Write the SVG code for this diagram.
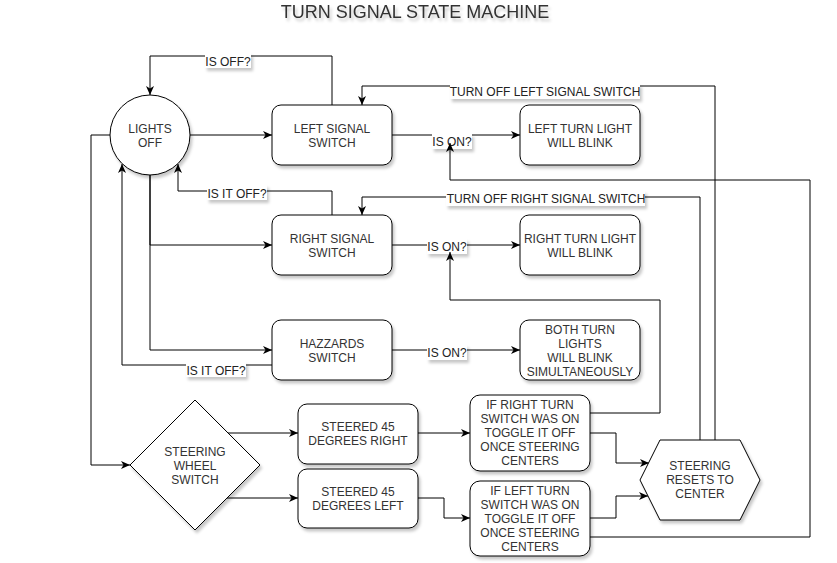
<svg xmlns="http://www.w3.org/2000/svg" width="837" height="563" viewBox="0 0 837 563">
<defs>
<filter id="sh" x="-20%" y="-20%" width="150%" height="160%">
<feDropShadow dx="2" dy="3" stdDeviation="1.5" flood-color="#000" flood-opacity="0.22"/>
</filter>
<marker id="arr" markerUnits="userSpaceOnUse" markerWidth="10" markerHeight="8" refX="9" refY="4" orient="auto">
<path d="M0,0 L9,4 L0,8 L2.5,4 Z" fill="#000"/>
</marker>
<style>
.n{fill:#fff;stroke:#000;stroke-width:1;filter:url(#sh)}
.t{font-family:"Liberation Sans",Arial,sans-serif;font-size:12px;fill:#333;text-anchor:middle}
.e{fill:none;stroke:#000;stroke-width:1}
.a{marker-end:url(#arr)}
.lb{fill:#fff;filter:url(#sh)}
.lt{font-family:"Liberation Sans",Arial,sans-serif;font-size:12px;fill:#222;text-anchor:middle}
.title{font-family:"Liberation Sans",Arial,sans-serif;font-size:18px;fill:#333;text-anchor:middle;filter:url(#sh)}
</style>
</defs>
<rect width="837" height="563" fill="#fff"/>
<text class="title" x="415" y="18">TURN SIGNAL STATE MACHINE</text>

<g id="connectors">
<path class="e a" d="M190,135 H272"/>
<path class="e a" d="M332,105 V56 H150 V95"/>
<rect class="lb" x="205" y="53" width="46" height="15"/><text class="lt" x="228" y="65.5">IS OFF?</text>
<path class="e a" d="M150,175 V245 H272"/>
<path class="e a" d="M150,175 V350 H272"/>
<path class="e a" d="M332,215 V191 H178 V164"/>
<rect class="lb" x="207" y="185" width="60" height="15"/><text class="lt" x="237" y="197.5">IS IT OFF?</text>
<path class="e a" d="M272,365 H122 V164"/>
<rect class="lb" x="186" y="362" width="60" height="15"/><text class="lt" x="216" y="374.5">IS IT OFF?</text>
<path class="e a" d="M110,135 H91 V465 H130"/>
<path class="e a" d="M392,135 H520"/>
<rect class="lb" x="432" y="134" width="40" height="15"/><text class="lt" x="452" y="146">IS ON?</text>
<path class="e a" d="M392,245 H520"/>
<rect class="lb" x="427" y="239" width="40" height="15"/><text class="lt" x="447" y="251">IS ON?</text>
<path class="e a" d="M392,350 H520"/>
<rect class="lb" x="427" y="345" width="40" height="15"/><text class="lt" x="447" y="357">IS ON?</text>
<path class="e a" d="M715,440 V86 H362 V105"/>
<rect class="lb" x="450" y="84" width="190" height="15"/><text class="lt" x="545" y="96">TURN OFF LEFT SIGNAL SWITCH</text>
<path class="e a" d="M700,440 V197 H362 V215"/>
<rect class="lb" x="446" y="191" width="199" height="15"/><text class="lt" x="546" y="203">TURN OFF RIGHT SIGNAL SWITCH</text>
<path class="e a" d="M590,413 H660 V300 H450 V252"/>
<path class="e a" d="M590,537 H810 V180 H450 V143"/>
<path class="e a" d="M228,433 H298"/>
<path class="e a" d="M227,498 H298"/>
<path class="e a" d="M418,433 H470"/>
<path class="e a" d="M418,498 H444 V518 H470"/>
<path class="e a" d="M590,433 H616 V463 H649"/>
<path class="e a" d="M590,518 H616 V496 H648"/>
</g>

<g id="lights-off">
<circle class="n" cx="150" cy="135" r="40"/>
<text class="t" x="150" y="132.5">LIGHTS</text>
<text class="t" x="150" y="146.5">OFF</text>
</g>
<g id="left-signal-switch">
<rect class="n" x="272" y="105" width="120" height="60" rx="9"/>
<text class="t" x="332" y="132.5">LEFT SIGNAL</text>
<text class="t" x="332" y="146.5">SWITCH</text>
</g>
<g id="right-signal-switch">
<rect class="n" x="272" y="215" width="120" height="60" rx="9"/>
<text class="t" x="332" y="242.5">RIGHT SIGNAL</text>
<text class="t" x="332" y="256.5">SWITCH</text>
</g>
<g id="hazzards-switch">
<rect class="n" x="272" y="320" width="120" height="60" rx="9"/>
<text class="t" x="332" y="347.5">HAZZARDS</text>
<text class="t" x="332" y="361.5">SWITCH</text>
</g>
<g id="left-turn-light">
<rect class="n" x="520" y="105" width="120" height="60" rx="9"/>
<text class="t" x="580" y="132.5">LEFT TURN LIGHT</text>
<text class="t" x="580" y="146.5">WILL BLINK</text>
</g>
<g id="right-turn-light">
<rect class="n" x="520" y="215" width="120" height="60" rx="9"/>
<text class="t" x="580" y="242.5">RIGHT TURN LIGHT</text>
<text class="t" x="580" y="256.5">WILL BLINK</text>
</g>
<g id="both-turn-lights">
<rect class="n" x="520" y="320" width="120" height="60" rx="9"/>
<text class="t" x="580" y="333.5">BOTH TURN</text>
<text class="t" x="580" y="347.5">LIGHTS</text>
<text class="t" x="580" y="361.5">WILL BLINK</text>
<text class="t" x="580" y="375.5">SIMULTANEOUSLY</text>
</g>
<g id="steering-wheel-switch">
<polygon class="n" points="195,400 260,465 195,530 130,465"/>
<text class="t" x="195" y="455.5">STEERING</text>
<text class="t" x="195" y="469.5">WHEEL</text>
<text class="t" x="195" y="483.5">SWITCH</text>
</g>
<g id="steered-right">
<rect class="n" x="298" y="404" width="120" height="60" rx="9"/>
<text class="t" x="358" y="431">STEERED 45</text>
<text class="t" x="358" y="445">DEGREES RIGHT</text>
</g>
<g id="steered-left">
<rect class="n" x="298" y="469" width="120" height="59" rx="9"/>
<text class="t" x="358" y="495.5">STEERED 45</text>
<text class="t" x="358" y="509.5">DEGREES LEFT</text>
</g>
<g id="if-right">
<rect class="n" x="470" y="395" width="120" height="76" rx="10"/>
<text class="t" x="530" y="409.3">IF RIGHT TURN</text>
<text class="t" x="530" y="423.3">SWITCH WAS ON</text>
<text class="t" x="530" y="437.3">TOGGLE IT OFF</text>
<text class="t" x="530" y="451.3">ONCE STEERING</text>
<text class="t" x="530" y="465.3">CENTERS</text>
</g>
<g id="if-left">
<rect class="n" x="470" y="481" width="120" height="75" rx="10"/>
<text class="t" x="530" y="494.8">IF LEFT TURN</text>
<text class="t" x="530" y="508.8">SWITCH WAS ON</text>
<text class="t" x="530" y="522.8">TOGGLE IT OFF</text>
<text class="t" x="530" y="536.8">ONCE STEERING</text>
<text class="t" x="530" y="550.8">CENTERS</text>
</g>
<g id="steering-resets">
<polygon class="n" points="640,480 660,440 740,440 760,480 740,520 660,520"/>
<text class="t" x="700" y="470.3">STEERING</text>
<text class="t" x="700" y="484.3">RESETS TO</text>
<text class="t" x="700" y="498.3">CENTER</text>
</g>
</svg>
